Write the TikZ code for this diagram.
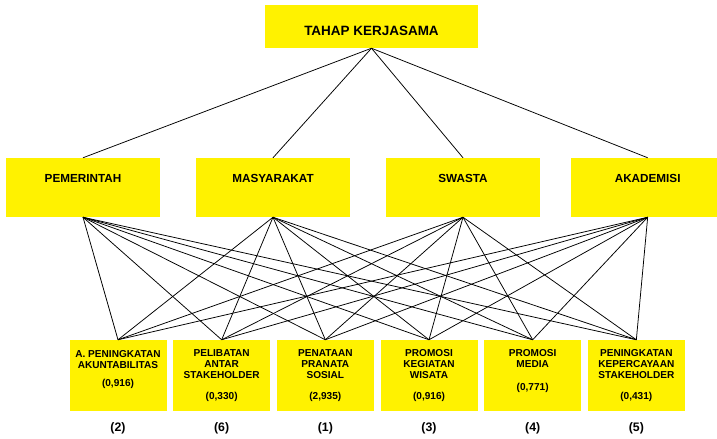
\documentclass[tikz,border=0pt]{standalone}
\usepackage{fontspec}
\setmainfont{Liberation Sans}
\usetikzlibrary{positioning}

\begin{document}
\begin{tikzpicture}[
  node distance=3.11cm,
  goal/.style={rectangle, fill=yellow, minimum width=6.39cm, minimum height=1.29cm, inner sep=0pt, text height=15.5pt, text depth=0pt, font=\bfseries\fontsize{11.5}{13}\selectfont},
  actor/.style={rectangle, fill=yellow, minimum width=4.6cm, minimum height=1.77cm, inner sep=0pt, text height=7.2pt, text depth=16pt, font=\bfseries\fontsize{10}{12}\selectfont},
  strategy/.style={rectangle, fill=yellow, minimum width=2.91cm, minimum height=2.13cm, inner sep=0pt, align=center, font=\bfseries\fontsize{8.6}{9.4}\selectfont},
  rank/.style={font=\bfseries\fontsize{10.5}{12}\selectfont},
  link/.style={line width=0.65pt}
]
\useasboundingbox (0,0) rectangle (21.51,-13.17);

\node[goal] (tahap) at (11.145,-0.795) {TAHAP KERJASAMA};

\node[actor] (pemerintah) at (2.49,-5.625) {PEMERINTAH};
\node[actor, right of=pemerintah, node distance=5.7cm] (masyarakat) {MASYARAKAT};
\node[actor, right of=masyarakat, node distance=5.7cm] (swasta) {SWASTA};
\node[actor, right of=swasta, node distance=5.54cm] (akademisi) {AKADEMISI};

\node[strategy] (akun) at (3.54,-11.265) {A. PENINGKATAN\\AKUNTABILITAS\\[6pt](0,916)\rule[-12pt]{0pt}{12pt}};
\node[strategy, right of=akun] (libat) {PELIBATAN\\ANTAR\\STAKEHOLDER\\[9pt](0,330)};
\node[strategy, right of=libat] (pranata) {PENATAAN\\PRANATA\\SOSIAL\\[9pt](2,935)};
\node[strategy, right of=pranata] (wisata) {PROMOSI\\KEGIATAN\\WISATA\\[9pt](0,916)};
\node[strategy, right of=wisata] (media) {PROMOSI\\MEDIA\\[10pt](0,771)\rule[-9pt]{0pt}{9pt}};
\node[strategy, right of=media] (percaya) {PENINGKATAN\\KEPERCAYAAN\\STAKEHOLDER\\[9pt](0,431)};

% ranking under each strategy
\node[rank, below of=akun, node distance=1.575cm] (rakun) {(2)};
\node[rank, below of=libat, node distance=1.575cm] (rlibat) {(6)};
\node[rank, below of=pranata, node distance=1.575cm] (rpranata) {(1)};
\node[rank, below of=wisata, node distance=1.575cm] (rwisata) {(3)};
\node[rank, below of=media, node distance=1.575cm] (rmedia) {(4)};
\node[rank, below of=percaya, node distance=1.575cm] (rpercaya) {(5)};

\foreach \a in {pemerintah,masyarakat,swasta,akademisi} {
  \draw[link] (tahap.south) -- (\a.north);
  \foreach \s in {akun,libat,pranata,wisata,media,percaya}
    \draw[link] (\a.south) -- (\s.north);
}
\end{tikzpicture}
\end{document}
